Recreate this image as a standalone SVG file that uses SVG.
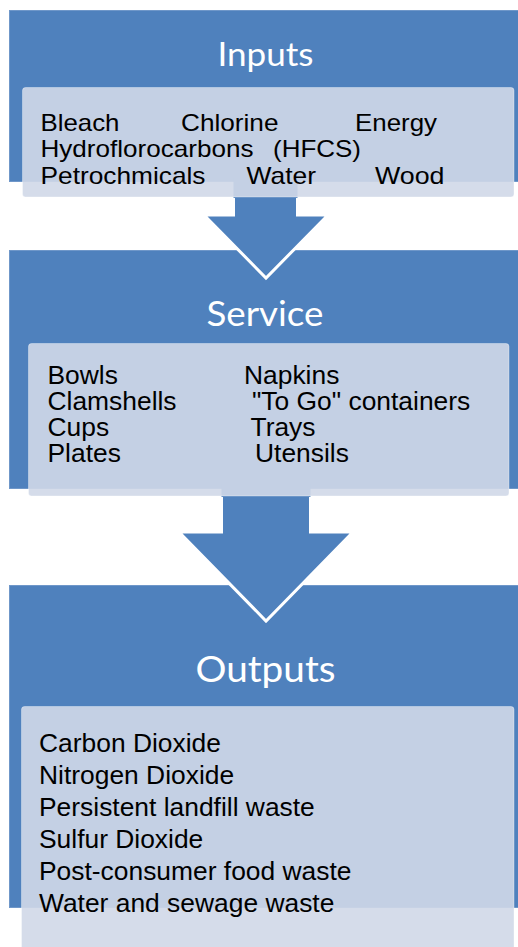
<svg xmlns="http://www.w3.org/2000/svg" width="518" height="947" viewBox="0 0 518 947">
<style>
.box{fill:#4f81bd;stroke:#6f97c9;stroke-width:1}
.inner{fill:#d0d8e8;fill-opacity:0.9;stroke:#ffffff;stroke-opacity:0.35;stroke-width:1}
.afill{fill:#4f81bd;stroke:none}
.aline{fill:none;stroke:#ffffff;stroke-width:3;stroke-linejoin:miter}
.title{font-family:Lato,"Open Sans",sans-serif;fill:#ffffff;text-anchor:middle}
.t{font-family:"Liberation Sans",Arial,sans-serif;fill:#000000}
.t24{font-size:24px}
.t26{font-size:26.4px}
</style>
<rect width="518" height="947" fill="#ffffff"/>
<g id="outputs-box"><rect class="box" x="9.5" y="585.5" width="515" height="322"/></g>
<g id="service-box"><rect class="box" x="9.5" y="250.5" width="515" height="238"/></g>
<g id="inputs-box"><rect class="box" x="9.5" y="10.5" width="515" height="171"/></g>
<g id="connectors">
<polygon class="afill" points="233.5,178 297.5,178 297.5,215 328,215 266,278 204,215 233.5,215"/>
<polyline class="aline" points="233.5,198 233.5,215 204,215 266,278 328,215 297.5,215 297.5,198"/>
<polygon class="afill" points="221.5,484 310.5,484 310.5,532 353,532 266,621 179,532 221.5,532"/>
<polyline class="aline" points="221.5,497 221.5,532 179,532 266,621 353,532 310.5,532 310.5,497"/>
</g>
<g id="inputs">
<text class="title" x="265.5" y="66" font-size="32" textLength="96" lengthAdjust="spacingAndGlyphs">Inputs</text>
<rect class="inner" x="22.5" y="87.5" width="491.5" height="109.5" rx="3"/>
<text class="t t24" x="40.5" y="130.5" textLength="79" lengthAdjust="spacingAndGlyphs">Bleach</text>
<text class="t t24" x="181" y="130.5" textLength="97.5" lengthAdjust="spacingAndGlyphs">Chlorine</text>
<text class="t t24" x="355" y="130.5" textLength="82" lengthAdjust="spacingAndGlyphs">Energy</text>
<text class="t t24" x="40.5" y="157" textLength="213" lengthAdjust="spacingAndGlyphs">Hydroflorocarbons</text>
<text class="t t24" x="273" y="157" textLength="88" lengthAdjust="spacingAndGlyphs">(HFCS)</text>
<text class="t t24" x="40.5" y="183.5" textLength="165" lengthAdjust="spacingAndGlyphs">Petrochmicals</text>
<text class="t t24" x="246.5" y="183.5" textLength="69.5" lengthAdjust="spacingAndGlyphs">Water</text>
<text class="t t24" x="375" y="183.5" textLength="69.5" lengthAdjust="spacingAndGlyphs">Wood</text>
</g>
<g id="service">
<text class="title" x="265" y="326" font-size="35" textLength="117" lengthAdjust="spacingAndGlyphs">Service</text>
<rect class="inner" x="28.5" y="343.5" width="480.5" height="152.5" rx="3"/>
<text class="t t26" x="47.5" y="384">Bowls</text>
<text class="t t26" x="47.5" y="410">Clamshells</text>
<text class="t t26" x="47.5" y="436">Cups</text>
<text class="t t26" x="47.5" y="462">Plates</text>
<text class="t t26" x="244" y="384">Napkins</text>
<text class="t t26" x="252" y="410">"To Go" containers</text>
<text class="t t26" x="250.5" y="436">Trays</text>
<text class="t t26" x="255" y="462">Utensils</text>
</g>
<g id="outputs">
<text class="title" x="265.5" y="682" font-size="36" textLength="140" lengthAdjust="spacingAndGlyphs">Outputs</text>
<rect class="inner" x="21.5" y="706.5" width="492.5" height="250" rx="3"/>
<text class="t t26" x="39" y="752">Carbon Dioxide</text>
<text class="t t26" x="39" y="784">Nitrogen Dioxide</text>
<text class="t t26" x="39" y="816">Persistent landfill waste</text>
<text class="t t26" x="39" y="848">Sulfur Dioxide</text>
<text class="t t26" x="39" y="880">Post-consumer food waste</text>
<text class="t t26" x="39" y="912">Water and sewage waste</text>
</g>
</svg>
